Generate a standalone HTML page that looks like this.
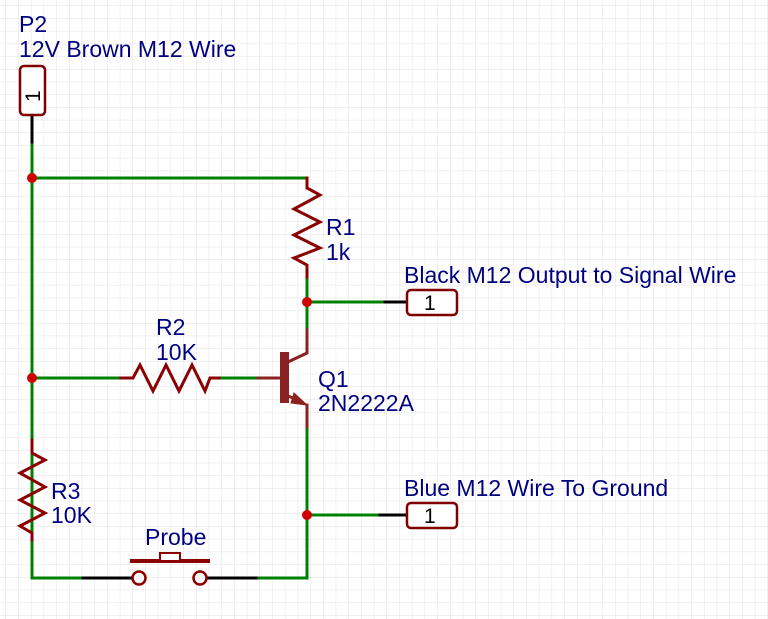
<!DOCTYPE html>
<html><head><meta charset="utf-8"><style>
html,body{margin:0;padding:0;background:#fff;}
body{width:768px;height:619px;overflow:hidden;}
svg{display:block}
text{font-family:"Liberation Sans",sans-serif;font-size:23px;fill:#000080}
</style></head><body>
<svg width="768" height="619" xmlns="http://www.w3.org/2000/svg">
<defs><pattern id="g" width="12.7" height="12.7" patternUnits="userSpaceOnUse" x="6" y="6">
<path d="M12.7 0V12.7M0 12.7H12.7" stroke="#e2e2e2" stroke-width="1" fill="none"/></pattern></defs>
<rect width="768" height="619" fill="url(#g)"/>
<g fill="none" stroke-width="3" stroke-linecap="square">
<g stroke="#008000">
<path d="M32 142V578H83"/>
<path d="M32 178H307V188"/>
<path d="M307 277V330"/>
<path d="M307 302H385"/>
<path d="M32 378H121"/>
<path d="M219 378H258"/>
<path d="M307 427V578H256"/>
<path d="M307 515H380"/>
</g>
<g stroke="#000">
<path d="M32 116V142"/>
<path d="M385 302H406"/>
<path d="M380 515H406"/>
<path d="M83 578H133"/>
<path d="M206 578H256"/>
</g>
<g stroke="#8b0000" stroke-linejoin="miter">
<path d="M307 178V188L320 195L294 209L320 222L294 235L320 248L294 258L307 265V277"/>
<path d="M121 378H133L140 365L153 391L166 365L179 391L192 365L205 391L210 378H219"/>
<path d="M32 440V453L45 460L20 473L45 487L20 500L45 513L20 526L32 533V540"/>
</g>
<g stroke="#8b2222">
<path d="M258 378H280"/>
<path d="M307 330V353L288 362"/>
<path d="M288 396L300 401M307 405V427"/>
</g>
<rect x="280" y="352" width="9" height="51" fill="#8b2222" stroke="none"/>
<polygon points="294,393 307,405 291,403" fill="#8b2222" stroke="#8b2222" stroke-width="1"/>
<path d="M132 561H208" stroke="#8b0000" stroke-width="4"/>
<rect x="160" y="553" width="20" height="8" stroke="#8b0000" stroke-width="2" fill="#fff"/>
<circle cx="139" cy="578" r="6.5" stroke="#8b0000" stroke-width="2.5" fill="#fff"/>
<circle cx="200" cy="578" r="6.5" stroke="#8b0000" stroke-width="2.5" fill="#fff"/>
<rect x="20" y="66" width="25" height="49" rx="4" stroke="#800000" stroke-width="2.5" fill="#fff"/>
<rect x="407" y="290" width="50" height="25" rx="4" stroke="#800000" stroke-width="2.5" fill="#fff"/>
<rect x="407" y="503" width="50" height="25" rx="4" stroke="#800000" stroke-width="2.5" fill="#fff"/>
</g>
<g fill="#d00000">
<circle cx="32" cy="178" r="5"/><circle cx="32" cy="378" r="5"/>
<circle cx="307" cy="302" r="5"/><circle cx="307" cy="515" r="5"/>
</g>
<text x="424" y="310" style="font-size:21px;fill:#000">1</text>
<text x="424" y="523" style="font-size:21px;fill:#000">1</text>
<text transform="translate(40,102) rotate(-90)" style="font-size:21px;fill:#000">1</text>
<text x="19" y="32">P2</text>
<text x="19" y="57">12V Brown M12 Wire</text>
<text x="326" y="235">R1</text>
<text x="326" y="260">1k</text>
<text x="404" y="283">Black M12 Output to Signal Wire</text>
<text x="156" y="335">R2</text>
<text x="156" y="360">10K</text>
<text x="318" y="387">Q1</text>
<text x="318" y="411">2N2222A</text>
<text x="51" y="499">R3</text>
<text x="51" y="523">10K</text>
<text x="404" y="496">Blue M12 Wire To Ground</text>
<text x="145" y="545">Probe</text>
</svg>
</body></html>
